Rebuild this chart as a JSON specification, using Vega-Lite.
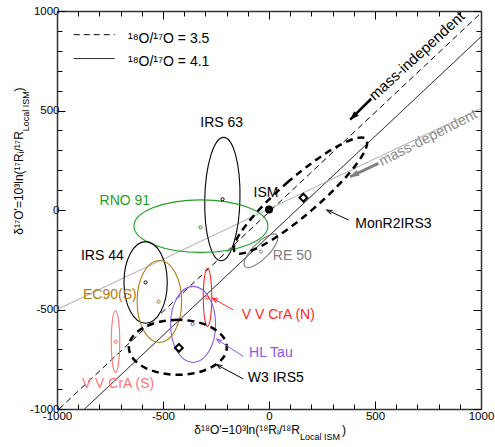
{
  "$schema": "https://vega.github.io/schema/vega-lite/v6.json",
  "width": 424,
  "height": 398,
  "autosize": {"type": "none"},
  "padding": {"left": 57, "top": 11, "right": 14, "bottom": 38},
  "config": {
    "view": {"stroke": null},
    "font": "Liberation Sans",
    "text": {"font": "Liberation Sans"}
  },
  "datasets": {
    "lines": [
      {"name": "r35", "x": -990, "y": -1000, "x2": 1000, "y2": 990},
      {"name": "r41", "x": -870, "y": -1000, "x2": 1000, "y2": 870},
      {"name": "md", "x": -1000, "y": -500, "x2": 1000, "y2": 510},
      {"name": "r35", "x": -921, "y": 881, "x2": -728, "y2": 881},
      {"name": "r41", "x": -921, "y": 761, "x2": -728, "y2": 761}
    ],
    "ell": [
      {"name": "IRS 63", "k": 0, "x": -137, "y": 55},
      {"name": "IRS 63", "k": 1, "x": -214, "y": 365},
      {"name": "IRS 63", "k": 2, "x": -303, "y": 55},
      {"name": "IRS 63", "k": 3, "x": -226, "y": -255},
      {"name": "RNO 91", "k": 0, "x": -5, "y": -81},
      {"name": "RNO 91", "k": 1, "x": -321, "y": 51},
      {"name": "RNO 91", "k": 2, "x": -637, "y": -81},
      {"name": "RNO 91", "k": 3, "x": -321, "y": -213},
      {"name": "IRS 44", "k": 0, "x": -480, "y": -364},
      {"name": "IRS 44", "k": 1, "x": -582, "y": -159},
      {"name": "IRS 44", "k": 2, "x": -684, "y": -364},
      {"name": "IRS 44", "k": 3, "x": -582, "y": -569},
      {"name": "EC90(S)", "k": 0, "x": -412, "y": -460},
      {"name": "EC90(S)", "k": 1, "x": -517, "y": -254},
      {"name": "EC90(S)", "k": 2, "x": -622, "y": -460},
      {"name": "EC90(S)", "k": 3, "x": -517, "y": -666},
      {"name": "V V CrA (S)", "k": 0, "x": -704, "y": -661},
      {"name": "V V CrA (S)", "k": 1, "x": -724, "y": -506},
      {"name": "V V CrA (S)", "k": 2, "x": -744, "y": -661},
      {"name": "V V CrA (S)", "k": 3, "x": -724, "y": -816},
      {"name": "V V CrA (N)", "k": 0, "x": -270, "y": -439},
      {"name": "V V CrA (N)", "k": 1, "x": -290, "y": -293},
      {"name": "V V CrA (N)", "k": 2, "x": -310, "y": -439},
      {"name": "V V CrA (N)", "k": 3, "x": -290, "y": -585},
      {"name": "HL Tau", "k": 0, "x": -252, "y": -575},
      {"name": "HL Tau", "k": 1, "x": -358, "y": -384},
      {"name": "HL Tau", "k": 2, "x": -464, "y": -575},
      {"name": "HL Tau", "k": 3, "x": -358, "y": -766},
      {"name": "RE 50", "k": 0, "x": 37, "y": -125},
      {"name": "RE 50", "k": 1, "x": -65, "y": -177},
      {"name": "RE 50", "k": 2, "x": -113, "y": -285},
      {"name": "RE 50", "k": 3, "x": -11, "y": -233},
      {"name": "W3 IRS5", "k": 0, "x": -199, "y": -690},
      {"name": "W3 IRS5", "k": 1, "x": -430, "y": -552},
      {"name": "W3 IRS5", "k": 2, "x": -661, "y": -690},
      {"name": "W3 IRS5", "k": 3, "x": -430, "y": -828},
      {"name": "MonR2IRS3", "k": 0, "x": 458, "y": 356},
      {"name": "MonR2IRS3", "k": 1, "x": 92, "y": 143},
      {"name": "MonR2IRS3", "k": 2, "x": -161, "y": -211},
      {"name": "MonR2IRS3", "k": 3, "x": 206, "y": 3}
    ],
    "dots": [
      {"name": "IRS 63", "x": -219, "y": 54},
      {"name": "RNO 91", "x": -323, "y": -87},
      {"name": "IRS 44", "x": -582, "y": -364},
      {"name": "EC90(S)", "x": -521, "y": -461},
      {"name": "V V CrA (S)", "x": -723, "y": -662},
      {"name": "V V CrA (N)", "x": -291, "y": -440},
      {"name": "HL Tau", "x": -360, "y": -573},
      {"name": "RE 50", "x": -38, "y": -209}
    ],
    "diamonds": [
      {"name": "MonR2IRS3", "x": 162, "y": 62},
      {"name": "W3 IRS5", "x": -425, "y": -693}
    ],
    "ism": [{"name": "ISM", "x": 0, "y": 3}],
    "labels": [
      {"name": "IRS 63", "x": -223, "y": 438},
      {"name": "RNO 91", "x": -680, "y": 47},
      {"name": "IRS 44", "x": -786, "y": -231},
      {"name": "EC90(S)", "x": -751, "y": -426},
      {"name": "V V CrA (S)", "x": -712, "y": -873},
      {"name": "V V CrA (N)", "x": 44, "y": -527},
      {"name": "HL Tau", "x": 9, "y": -719},
      {"name": "W3 IRS5", "x": 32, "y": -844},
      {"name": "MonR2IRS3", "x": 587, "y": -70},
      {"name": "RE 50", "x": 110, "y": -231},
      {"name": "ISM", "x": -14, "y": 85}
    ],
    "arrows": [
      {"name": "mass-independent", "x": 482, "y": 559, "x2": 383, "y2": 454},
      {"name": "mass-dependent", "x": 516, "y": 234, "x2": 383, "y2": 167},
      {"name": "MonR2IRS3", "x": 375, "y": -50, "x2": 273, "y2": 0},
      {"name": "V V CrA (N)", "x": -169, "y": -502, "x2": -266, "y2": -443},
      {"name": "HL Tau", "x": -121, "y": -736, "x2": -247, "y2": -649},
      {"name": "W3 IRS5", "x": -121, "y": -849, "x2": -247, "y2": -777}
    ],
    "legendtext": [
      {"t": "¹⁸O/¹⁷O = 3.5", "x": -665, "y": 861},
      {"t": "¹⁸O/¹⁷O = 4.1", "x": -665, "y": 744}
    ],
    "xtitle": [
      {"t": "δ¹⁸O'=10³ln(¹⁸Rᵢ/¹⁸R", "x": 146, "y": -1108},
      {"t": ")", "x": 363, "y": -1108}
    ],
    "xsub": [{"t": "Local ISM", "x": 146, "y": -1143}],
    "ytitle": [
      {"t": "δ¹⁷O'=10³ln(¹⁷Rᵢ/¹⁷R", "x": -1181, "y": 396},
      {"t": ")", "x": -1181, "y": 616}
    ],
    "ysub": [{"t": "Local ISM", "x": -1148, "y": 396}]
  },
  "resolve": {"axis": {"x": "independent", "y": "independent"}},
  "layer": [
    {
      "data": {"name": "lines"},
      "mark": {"type": "rule", "strokeWidth": 1},
      "encoding": {
        "x": {"field": "x", "type": "quantitative", "scale": {"domain": [-1000, 1000], "nice": false, "zero": false},
          "axis": {"orient": "bottom", "title": null, "grid": false, "values": [-1000,-900,-800,-700,-600,-500,-400,-300,-200,-100,0,100,200,300,400,500,600,700,800,900,1000],
            "labelExpr": "datum.value % 500 === 0 ? '' + datum.value : ''",
            "tickSize": {"condition": {"test": "datum.value % 500 === 0", "value": -8}, "value": -5},
            "labelPadding": 9, "labelFontSize": 11.5, "labelFont": "Liberation Sans", "labelColor": "#000", "tickColor": "#000", "domainColor": "#333", "domainWidth": 1.5, "labelOverlap": false, "labelFlush": false}},
        "y": {"field": "y", "type": "quantitative", "scale": {"domain": [-1000, 1000], "nice": false, "zero": false},
          "axis": {"orient": "left", "title": null, "grid": false, "values": [-1000,-900,-800,-700,-600,-500,-400,-300,-200,-100,0,100,200,300,400,500,600,700,800,900,1000],
            "labelExpr": "datum.value % 500 === 0 ? '' + datum.value : ''",
            "tickSize": {"condition": {"test": "datum.value % 500 === 0", "value": -8}, "value": -5},
            "labelPadding": 6, "labelAlign": "right", "labelBaseline": "middle", "labelFontSize": 11.5, "labelFont": "Liberation Sans", "labelColor": "#000", "tickColor": "#000", "domainColor": "#333", "domainWidth": 1.5, "labelOverlap": false, "labelFlush": false}},
        "x2": {"field": "x2"},
        "y2": {"field": "y2"},
        "color": {"field": "name", "type": "nominal", "legend": null,
          "scale": {"domain": ["IRS 63","RNO 91","IRS 44","EC90(S)","V V CrA (N)","V V CrA (S)","HL Tau","RE 50","W3 IRS5","MonR2IRS3","ISM","r35","r41","md","mass-independent","mass-dependent"],
            "range": ["#000000","#1f9f1f","#000000","#b27a12","#ff2626","#ff7474","#8a5ae8","#808080","#000000","#000000","#000000","#000000","#000000","#a0a0a0","#000000","#7f7f7f"]}},
        "strokeDash": {"field": "name", "type": "nominal", "legend": null,
          "scale": {"domain": ["r35", "r41", "md"], "range": [[6, 4], [1, 0], [1, 0]]}}
      }
    },
    {
      "data": {"name": "ell"},
      "transform": [{"filter": {"field": "name", "oneOf": ["IRS 63","RNO 91","IRS 44","EC90(S)","V V CrA (N)","V V CrA (S)","HL Tau","RE 50"]}}],
      "mark": {"type": "line", "interpolate": "cardinal-closed", "tension": -0.657, "strokeWidth": 1.1},
      "encoding": {
        "x": {"field": "x", "type": "quantitative", "scale": {"domain": [-1000, 1000], "nice": false, "zero": false},
          "axis": {"orient": "top", "title": null, "grid": false, "labels": false, "values": [-1000,-900,-800,-700,-600,-500,-400,-300,-200,-100,0,100,200,300,400,500,600,700,800,900,1000],
            "tickSize": {"condition": {"test": "datum.value % 500 === 0", "value": -8}, "value": -5},
            "tickColor": "#000", "domainColor": "#333", "domainWidth": 1.5}},
        "y": {"field": "y", "type": "quantitative", "scale": {"domain": [-1000, 1000], "nice": false, "zero": false},
          "axis": {"orient": "right", "title": null, "grid": false, "labels": false, "values": [-1000,-900,-800,-700,-600,-500,-400,-300,-200,-100,0,100,200,300,400,500,600,700,800,900,1000],
            "tickSize": {"condition": {"test": "datum.value % 500 === 0", "value": -8}, "value": -5},
            "tickColor": "#000", "domainColor": "#333", "domainWidth": 1.5}},
        "order": {"field": "k", "type": "quantitative"},
        "detail": {"field": "name", "type": "nominal"},
        "color": {"field": "name", "type": "nominal", "legend": null,
          "scale": {"domain": ["IRS 63","RNO 91","IRS 44","EC90(S)","V V CrA (N)","V V CrA (S)","HL Tau","RE 50","W3 IRS5","MonR2IRS3","ISM","r35","r41","md","mass-independent","mass-dependent"],
            "range": ["#000000","#1f9f1f","#000000","#b27a12","#ff2626","#ff7474","#8a5ae8","#808080","#000000","#000000","#000000","#000000","#000000","#a0a0a0","#000000","#7f7f7f"]}}
      }
    },
    {
      "data": {"name": "ell"},
      "transform": [{"filter": {"field": "name", "oneOf": ["W3 IRS5", "MonR2IRS3"]}}],
      "mark": {"type": "line", "interpolate": "cardinal-closed", "tension": -0.657, "strokeWidth": 2.5, "strokeDash": [7, 5], "color": "#000"},
      "encoding": {
        "x": {"field": "x", "type": "quantitative", "scale": {"domain": [-1000, 1000], "nice": false, "zero": false}, "axis": null},
        "y": {"field": "y", "type": "quantitative", "scale": {"domain": [-1000, 1000], "nice": false, "zero": false}, "axis": null},
        "order": {"field": "k", "type": "quantitative"},
        "detail": {"field": "name", "type": "nominal"}
      }
    },
    {
      "data": {"name": "dots"},
      "mark": {"type": "point", "filled": false, "size": 10, "strokeWidth": 1, "opacity": 1},
      "encoding": {
        "x": {"field": "x", "type": "quantitative", "scale": {"domain": [-1000, 1000], "nice": false, "zero": false}, "axis": null},
        "y": {"field": "y", "type": "quantitative", "scale": {"domain": [-1000, 1000], "nice": false, "zero": false}, "axis": null},
        "color": {"field": "name", "type": "nominal", "legend": null,
          "scale": {"domain": ["IRS 63","RNO 91","IRS 44","EC90(S)","V V CrA (N)","V V CrA (S)","HL Tau","RE 50","W3 IRS5","MonR2IRS3","ISM","r35","r41","md","mass-independent","mass-dependent"],
            "range": ["#000000","#1f9f1f","#000000","#b27a12","#ff2626","#ff7474","#8a5ae8","#808080","#000000","#000000","#000000","#000000","#000000","#a0a0a0","#000000","#7f7f7f"]}}
      }
    },
    {
      "data": {"name": "diamonds"},
      "mark": {"type": "point", "shape": "diamond", "filled": false, "size": 60, "strokeWidth": 2, "color": "#000", "opacity": 1},
      "encoding": {
        "x": {"field": "x", "type": "quantitative", "scale": {"domain": [-1000, 1000], "nice": false, "zero": false}, "axis": null},
        "y": {"field": "y", "type": "quantitative", "scale": {"domain": [-1000, 1000], "nice": false, "zero": false}, "axis": null}
      }
    },
    {
      "data": {"name": "ism"},
      "mark": {"type": "point", "shape": "circle", "filled": true, "size": 64, "color": "#000", "opacity": 1},
      "encoding": {
        "x": {"field": "x", "type": "quantitative", "scale": {"domain": [-1000, 1000], "nice": false, "zero": false}, "axis": null},
        "y": {"field": "y", "type": "quantitative", "scale": {"domain": [-1000, 1000], "nice": false, "zero": false}, "axis": null}
      }
    },
    {
      "data": {"name": "arrows"},
      "transform": [{"filter": {"field": "name", "oneOf": ["MonR2IRS3", "V V CrA (N)", "HL Tau", "W3 IRS5"]}}],
      "mark": {"type": "rule", "strokeWidth": 1},
      "encoding": {
        "x": {"field": "x", "type": "quantitative", "scale": {"domain": [-1000, 1000], "nice": false, "zero": false}, "axis": null},
        "y": {"field": "y", "type": "quantitative", "scale": {"domain": [-1000, 1000], "nice": false, "zero": false}, "axis": null},
        "x2": {"field": "x2"},
        "y2": {"field": "y2"},
        "color": {"field": "name", "type": "nominal", "legend": null,
          "scale": {"domain": ["IRS 63","RNO 91","IRS 44","EC90(S)","V V CrA (N)","V V CrA (S)","HL Tau","RE 50","W3 IRS5","MonR2IRS3","ISM","r35","r41","md","mass-independent","mass-dependent"],
            "range": ["#000000","#1f9f1f","#000000","#b27a12","#ff2626","#ff7474","#8a5ae8","#808080","#000000","#000000","#000000","#000000","#000000","#a0a0a0","#000000","#7f7f7f"]}}
      }
    },
    {
      "data": {"name": "arrows"},
      "transform": [{"filter": "datum.name === 'mass-independent'"}],
      "mark": {"type": "rule", "strokeWidth": 2.5, "color": "#000"},
      "encoding": {
        "x": {"field": "x", "type": "quantitative", "scale": {"domain": [-1000, 1000], "nice": false, "zero": false}, "axis": null},
        "y": {"field": "y", "type": "quantitative", "scale": {"domain": [-1000, 1000], "nice": false, "zero": false}, "axis": null},
        "x2": {"field": "x2"},
        "y2": {"field": "y2"}
      }
    },
    {
      "data": {"name": "arrows"},
      "transform": [{"filter": "datum.name === 'mass-dependent'"}],
      "mark": {"type": "rule", "strokeWidth": 3, "color": "#7f7f7f"},
      "encoding": {
        "x": {"field": "x", "type": "quantitative", "scale": {"domain": [-1000, 1000], "nice": false, "zero": false}, "axis": null},
        "y": {"field": "y", "type": "quantitative", "scale": {"domain": [-1000, 1000], "nice": false, "zero": false}, "axis": null},
        "x2": {"field": "x2"},
        "y2": {"field": "y2"}
      }
    },
    {
      "data": {"name": "arrows"},
      "transform": [{"filter": "datum.name === 'mass-independent'"}],
      "mark": {"type": "point", "shape": "M0,0L-0.6,1.6L0.6,1.6Z", "filled": true, "size": 120, "angle": 225, "color": "#000", "opacity": 1},
      "encoding": {
        "x": {"field": "x2", "type": "quantitative", "scale": {"domain": [-1000, 1000], "nice": false, "zero": false}, "axis": null},
        "y": {"field": "y2", "type": "quantitative", "scale": {"domain": [-1000, 1000], "nice": false, "zero": false}, "axis": null}
      }
    },
    {
      "data": {"name": "arrows"},
      "transform": [{"filter": "datum.name === 'mass-dependent'"}],
      "mark": {"type": "point", "shape": "M0,0L-0.6,1.6L0.6,1.6Z", "filled": true, "size": 120, "angle": 244.7, "color": "#7f7f7f", "opacity": 1},
      "encoding": {
        "x": {"field": "x2", "type": "quantitative", "scale": {"domain": [-1000, 1000], "nice": false, "zero": false}, "axis": null},
        "y": {"field": "y2", "type": "quantitative", "scale": {"domain": [-1000, 1000], "nice": false, "zero": false}, "axis": null}
      }
    },
    {
      "data": {"name": "arrows"},
      "transform": [{"filter": "datum.name === 'MonR2IRS3'"}],
      "mark": {"type": "point", "shape": "M-0.6,1.6L0,0L0.6,1.6", "filled": false, "size": 45, "angle": 294.8, "strokeWidth": 1, "color": "#000", "opacity": 1},
      "encoding": {
        "x": {"field": "x2", "type": "quantitative", "scale": {"domain": [-1000, 1000], "nice": false, "zero": false}, "axis": null},
        "y": {"field": "y2", "type": "quantitative", "scale": {"domain": [-1000, 1000], "nice": false, "zero": false}, "axis": null}
      }
    },
    {
      "data": {"name": "arrows"},
      "transform": [{"filter": "datum.name === 'V V CrA (N)'"}],
      "mark": {"type": "point", "shape": "M-0.6,1.6L0,0L0.6,1.6", "filled": false, "size": 45, "angle": 299.6, "strokeWidth": 1, "color": "#ff2626", "opacity": 1},
      "encoding": {
        "x": {"field": "x2", "type": "quantitative", "scale": {"domain": [-1000, 1000], "nice": false, "zero": false}, "axis": null},
        "y": {"field": "y2", "type": "quantitative", "scale": {"domain": [-1000, 1000], "nice": false, "zero": false}, "axis": null}
      }
    },
    {
      "data": {"name": "arrows"},
      "transform": [{"filter": "datum.name === 'HL Tau'"}],
      "mark": {"type": "point", "shape": "M-0.6,1.6L0,0L0.6,1.6", "filled": false, "size": 45, "angle": 303.2, "strokeWidth": 1, "color": "#8a5ae8", "opacity": 1},
      "encoding": {
        "x": {"field": "x2", "type": "quantitative", "scale": {"domain": [-1000, 1000], "nice": false, "zero": false}, "axis": null},
        "y": {"field": "y2", "type": "quantitative", "scale": {"domain": [-1000, 1000], "nice": false, "zero": false}, "axis": null}
      }
    },
    {
      "data": {"name": "arrows"},
      "transform": [{"filter": "datum.name === 'W3 IRS5'"}],
      "mark": {"type": "point", "shape": "M-0.6,1.6L0,0L0.6,1.6", "filled": false, "size": 45, "angle": 298.3, "strokeWidth": 1, "color": "#000", "opacity": 1},
      "encoding": {
        "x": {"field": "x2", "type": "quantitative", "scale": {"domain": [-1000, 1000], "nice": false, "zero": false}, "axis": null},
        "y": {"field": "y2", "type": "quantitative", "scale": {"domain": [-1000, 1000], "nice": false, "zero": false}, "axis": null}
      }
    },
    {
      "data": {"name": "labels"},
      "mark": {"type": "text", "align": "center", "baseline": "middle", "fontSize": 14, "font": "Liberation Sans"},
      "encoding": {
        "x": {"field": "x", "type": "quantitative", "scale": {"domain": [-1000, 1000], "nice": false, "zero": false}, "axis": null},
        "y": {"field": "y", "type": "quantitative", "scale": {"domain": [-1000, 1000], "nice": false, "zero": false}, "axis": null},
        "text": {"field": "name"},
        "color": {"field": "name", "type": "nominal", "legend": null,
          "scale": {"domain": ["IRS 63","RNO 91","IRS 44","EC90(S)","V V CrA (N)","V V CrA (S)","HL Tau","RE 50","W3 IRS5","MonR2IRS3","ISM","r35","r41","md","mass-independent","mass-dependent"],
            "range": ["#000000","#1f9f1f","#000000","#b27a12","#ff2626","#ff7474","#8a5ae8","#808080","#000000","#000000","#000000","#000000","#000000","#a0a0a0","#000000","#7f7f7f"]}}
      }
    },
    {
      "data": {"values": [{"t": "mass-independent", "x": 697, "y": 775}]},
      "mark": {"type": "text", "align": "center", "baseline": "middle", "fontSize": 15, "angle": -42.5, "color": "#000", "font": "Liberation Sans"},
      "encoding": {
        "x": {"field": "x", "type": "quantitative", "scale": {"domain": [-1000, 1000], "nice": false, "zero": false}, "axis": null},
        "y": {"field": "y", "type": "quantitative", "scale": {"domain": [-1000, 1000], "nice": false, "zero": false}, "axis": null},
        "text": {"field": "t"}
      }
    },
    {
      "data": {"values": [{"t": "mass-dependent", "x": 751, "y": 361}]},
      "mark": {"type": "text", "align": "center", "baseline": "middle", "fontSize": 14.5, "angle": -27, "color": "#8a8a8a", "font": "Liberation Sans"},
      "encoding": {
        "x": {"field": "x", "type": "quantitative", "scale": {"domain": [-1000, 1000], "nice": false, "zero": false}, "axis": null},
        "y": {"field": "y", "type": "quantitative", "scale": {"domain": [-1000, 1000], "nice": false, "zero": false}, "axis": null},
        "text": {"field": "t"}
      }
    },
    {
      "data": {"name": "legendtext"},
      "mark": {"type": "text", "align": "left", "baseline": "middle", "fontSize": 14, "color": "#000", "font": "Liberation Sans"},
      "encoding": {
        "x": {"field": "x", "type": "quantitative", "scale": {"domain": [-1000, 1000], "nice": false, "zero": false}, "axis": null},
        "y": {"field": "y", "type": "quantitative", "scale": {"domain": [-1000, 1000], "nice": false, "zero": false}, "axis": null},
        "text": {"field": "t"}
      }
    },
    {
      "data": {"name": "xtitle"},
      "mark": {"type": "text", "align": "right", "baseline": "middle", "fontSize": 12, "color": "#000", "font": "Liberation Sans"},
      "encoding": {
        "x": {"field": "x", "type": "quantitative", "scale": {"domain": [-1000, 1000], "nice": false, "zero": false}, "axis": null},
        "y": {"field": "y", "type": "quantitative", "scale": {"domain": [-1000, 1000], "nice": false, "zero": false}, "axis": null},
        "text": {"field": "t"}
      }
    },
    {
      "data": {"name": "xsub"},
      "mark": {"type": "text", "align": "left", "baseline": "middle", "fontSize": 9, "color": "#000", "font": "Liberation Sans"},
      "encoding": {
        "x": {"field": "x", "type": "quantitative", "scale": {"domain": [-1000, 1000], "nice": false, "zero": false}, "axis": null},
        "y": {"field": "y", "type": "quantitative", "scale": {"domain": [-1000, 1000], "nice": false, "zero": false}, "axis": null},
        "text": {"field": "t"}
      }
    },
    {
      "data": {"name": "ytitle"},
      "mark": {"type": "text", "align": "right", "baseline": "middle", "fontSize": 12, "angle": 270, "color": "#000", "font": "Liberation Sans"},
      "encoding": {
        "x": {"field": "x", "type": "quantitative", "scale": {"domain": [-1000, 1000], "nice": false, "zero": false}, "axis": null},
        "y": {"field": "y", "type": "quantitative", "scale": {"domain": [-1000, 1000], "nice": false, "zero": false}, "axis": null},
        "text": {"field": "t"}
      }
    },
    {
      "data": {"name": "ysub"},
      "mark": {"type": "text", "align": "left", "baseline": "middle", "fontSize": 9, "angle": 270, "color": "#000", "font": "Liberation Sans"},
      "encoding": {
        "x": {"field": "x", "type": "quantitative", "scale": {"domain": [-1000, 1000], "nice": false, "zero": false}, "axis": null},
        "y": {"field": "y", "type": "quantitative", "scale": {"domain": [-1000, 1000], "nice": false, "zero": false}, "axis": null},
        "text": {"field": "t"}
      }
    }
  ]
}
